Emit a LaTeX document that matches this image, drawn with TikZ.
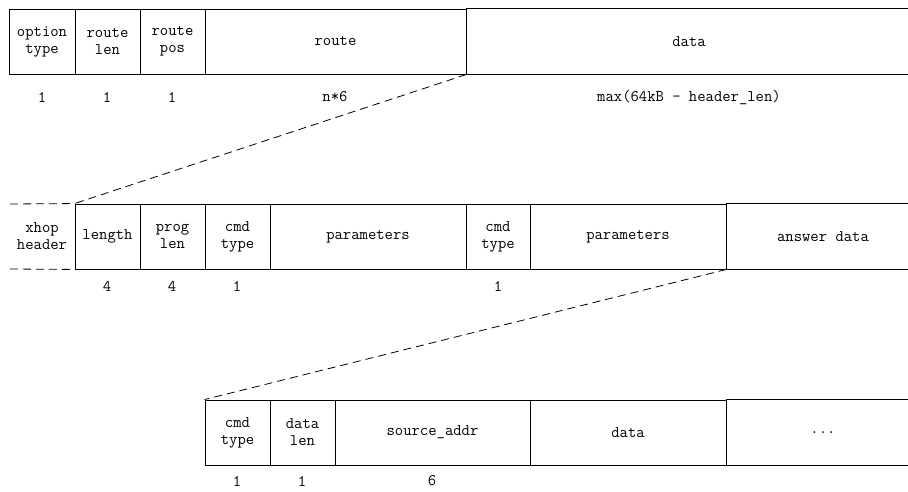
\documentclass[tikz,border=0pt]{standalone}
\newcommand\fieldfont{\ttfamily\fontsize{16.2}{17}\selectfont}
\tikzset{
  field/.style={draw, line width=0.9pt, minimum height=65pt, inner sep=0pt,
    align=center, font=\fieldfont},
  openfield/.style={field, draw=none},
  size/.style={inner sep=0pt, font=\fieldfont},
  edge/.style={line width=0.9pt},
  zoomline/.style={line width=0.8pt, dash pattern=on 8pt off 5pt},
}
\begin{document}
\begin{tikzpicture}[x=1pt,y=1pt]
\useasboundingbox (0,0) rectangle (908,491);

% ---- option header ----
\node[field, minimum width=66pt]  (ot)    at (42,449.5)  {option\\type};
\node[field, minimum width=65pt]  (rl)    at (107.5,449.5) {route\\len};
\node[field, minimum width=65pt]  (rp)    at (172.5,449.5) {route\\pos};
\node[field, minimum width=261pt] (route) at (335.5,449.5) {route};
\node[openfield, minimum width=446pt] (d1) at (689,449.5) {data};
\draw[edge] (d1.north west) -- ++(442,0);
\draw[edge] (d1.south west) -- ++(442,0);

\node[size] (s1) at (42,394)  {1};
\node[size] (s2) at (107,394) {1};
\node[size] (s3) at (172,394) {1};
\node[size] (s4) at (335,394) {n*6};
\node[size] (s5) at (689,394) {max(64kB - header\_len)};

% ---- xhop payload ----
\node[openfield, minimum width=66pt] (xh) at (42,254.5) {xhop\\header};
\draw[zoomline] (10,287) -- (xh.north east);
\draw[zoomline] (10,222) -- (xh.south east);
\node[field, minimum width=65pt]  (len)  at (107.5,254.5) {length};
\node[field, minimum width=65pt]  (pl)   at (172.5,254.5) {prog\\len};
\node[field, minimum width=65pt]  (ct1)  at (237.5,254.5) {cmd\\type};
\node[field, minimum width=196pt] (par1) at (368,254.5)   {parameters};
\node[field, minimum width=64pt]  (ct2)  at (498,254.5)   {cmd\\type};
\node[field, minimum width=196pt] (par2) at (628,254.5)   {parameters};
\node[openfield, minimum width=194pt] (ans) at (823,254.5) {answer data};
\draw[edge] (ans.north west) -- ++(182,0);
\draw[edge] (ans.south west) -- ++(182,0);

\node[size] (t1) at (107,205) {4};
\node[size] (t2) at (172,205) {4};
\node[size] (t3) at (237,205) {1};
\node[size] (t4) at (498,205) {1};

% ---- answer data ----
\node[field, minimum width=65pt]  (ct3) at (237.5,58.5) {cmd\\type};
\node[field, minimum width=65pt]  (dl)  at (302.5,58.5) {data\\len};
\node[field, minimum width=195pt] (sa)  at (432.5,58.5) {source\_addr};
\node[field, minimum width=196pt] (d3)  at (628,58.5)   {data};
\node[openfield, minimum width=194pt] (more) at (823,58.5) {...};
\draw[edge] (more.north west) -- ++(182,0);
\draw[edge] (more.south west) -- ++(182,0);

\node[size] (u1) at (237,10) {1};
\node[size] (u2) at (302,10) {1};
\node[size] (u3) at (432,10) {6};

% ---- zoom connectors ----
\draw[zoomline] (route.south east) -- (len.north west);
\draw[zoomline] (par2.south east) -- (ct3.north west);
\end{tikzpicture}
\end{document}
